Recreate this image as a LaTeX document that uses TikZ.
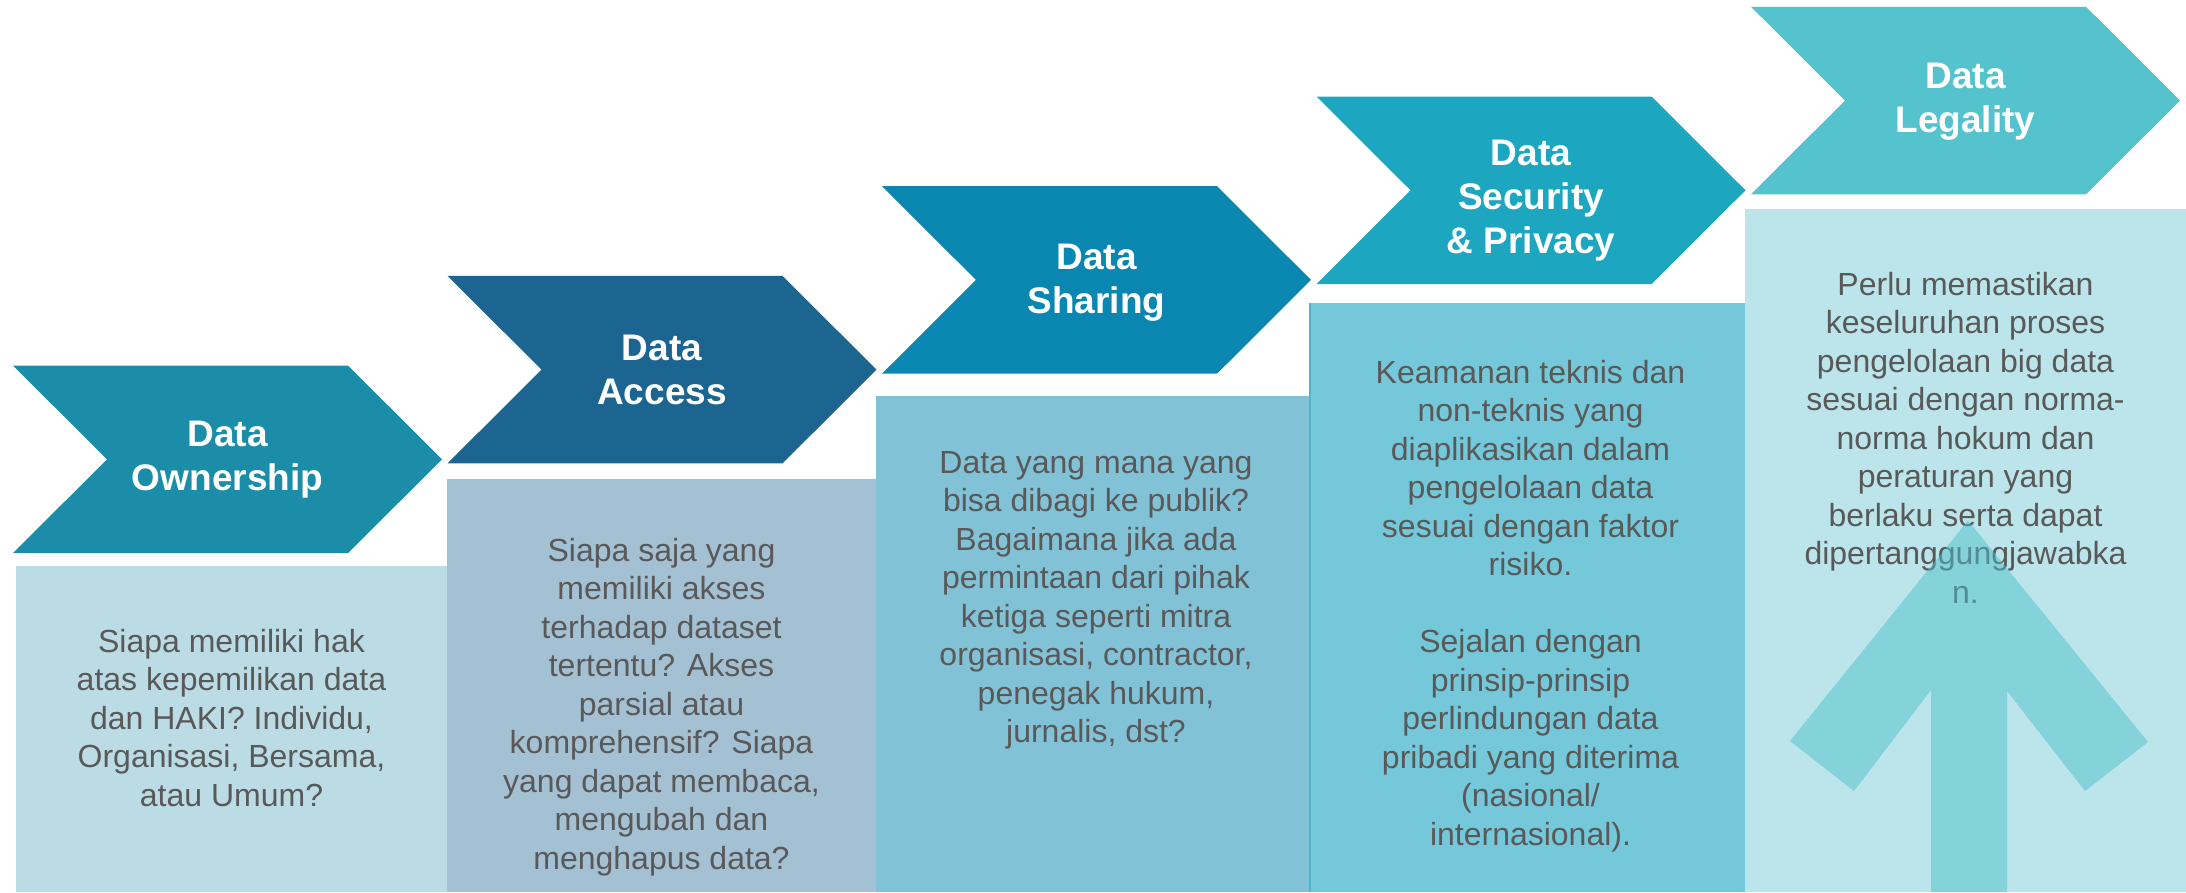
\documentclass[tikz,border=0pt]{standalone}
\usepackage{fontspec}
\setmainfont{Liberation Sans}
\usepackage{tikz}
\usetikzlibrary{positioning}
\usepackage{xcolor}
\definecolor{OwnerBlue}{HTML}{1B8DA8}
\definecolor{AccessBlue}{HTML}{1C6591}
\definecolor{SharingBlue}{HTML}{0987B0}
\definecolor{SecurityBlue}{HTML}{1CA6BF}
\definecolor{LegalBlue}{HTML}{55C3CE}
\definecolor{LiteOwner}{HTML}{BBDCE5}
\definecolor{LiteAccess}{HTML}{A4C0D3}
\definecolor{LiteSharing}{HTML}{82C2D6}
\definecolor{LiteSecurity}{HTML}{75C8D9}
\definecolor{LiteLegal}{HTML}{BBE5EA}
\definecolor{EdgeSecurity}{HTML}{4FB3CB}
\definecolor{UpArrow}{HTML}{4FC0CC}
\definecolor{TextGray}{HTML}{595959}
\tikzset{%
  stepbox/.style={%
    rectangle,%
    anchor=north west,%
    inner sep=0pt,%
    outer sep=0pt,%
    draw=none,%
  },
  chevron/.style={%
    draw=none,%
  },
  title_text/.style={%
    text=white,%
    anchor=north,%
    inner sep=0pt,%
    align=center,%
    font={\fontsize{37}{44}\selectfont\bfseries},%
  },
  body_text/.style={%
    text=TextGray,%
    inner sep=0pt,%
    align=center,%
    font={\fontsize{32}{38.5}\selectfont},%
  },
  up_arrow/.style={%
    fill=UpArrow,%
    fill opacity=0.5,%
  },
}

\begin{document}
\begin{tikzpicture}[x=1pt, y=-1pt]

    \useasboundingbox (0,0) rectangle (2186,892);

    % text boxes
    \node [stepbox, fill=LiteOwner, minimum width=431pt, minimum height=326pt] (box1) at (16,566) {};
    \node [stepbox, fill=LiteAccess, minimum width=429pt, minimum height=413pt] (box2) at (447,479) {};
    \node [stepbox, fill=LiteSharing, minimum width=434pt, minimum height=496.4pt] (box3) at (876,395.6) {};
    \node [stepbox, fill=LiteSecurity, minimum width=435pt, minimum height=589.3pt] (box4) at (1310,302.7) {};
    \node [stepbox, fill=LiteLegal, minimum width=441pt, minimum height=682.7pt] (box5) at (1745,209.3) {};
    \draw [EdgeSecurity, line width=1.2pt] (box4.north west) -- (box4.south west);

    % chevrons
    \fill [chevron, OwnerBlue]
      (13,365.6) -- (348,365.6) -- (442,459.35) -- (348,553.1) -- (13,553.1) -- (107,459.35) -- cycle;
    \fill [chevron, AccessBlue]
      (447.5,275.9) -- (782.5,275.9) -- (876.5,369.65) -- (782.5,463.4) -- (447.5,463.4) -- (541.5,369.65) -- cycle;
    \fill [chevron, SharingBlue]
      (882,186.2) -- (1217,186.2) -- (1311,279.95) -- (1217,373.7) -- (882,373.7) -- (976,279.95) -- cycle;
    \fill [chevron, SecurityBlue]
      (1316.5,96.5) -- (1651.5,96.5) -- (1745.5,190.25) -- (1651.5,284) -- (1316.5,284) -- (1410.5,190.25) -- cycle;
    \fill [chevron, LegalBlue]
      (1751,6.8) -- (2086,6.8) -- (2180,100.55) -- (2086,194.3) -- (1751,194.3) -- (1845,100.55) -- cycle;

    \node [title_text] (title1) at (227.5,421) {Data\\Ownership};
    \node [title_text] (title2) at (662,334.6) {Data\\Access};
    \node [title_text] (title3) at (1096.5,243.7) {Data\\Sharing};
    \node [title_text] (title4) at (1531,139.6) {Data\\Security\\\& Privacy};
    \node [title_text] (title5) at (1965.5,62.6) {Data\\Legality};

    \node [body_text, below=63pt of box1.north] (text1)
      {Siapa memiliki hak\\atas kepemilikan data\\dan HAKI? Individu,\\Organisasi, Bersama,\\atau Umum?};
    \node [body_text, below=59pt of box2.north] (text2)
      {Siapa saja yang\\memiliki akses\\terhadap dataset\\tertentu? Akses\\parsial atau\\komprehensif? Siapa\\yang dapat membaca,\\mengubah dan\\menghapus data?};
    \node [body_text, below=55.4pt of box3.north, xshift=3pt] (text3)
      {Data yang mana yang\\bisa dibagi ke publik?\\Bagaimana jika ada\\permintaan dari pihak\\ketiga seperti mitra\\organisasi, contractor,\\penegak hukum,\\jurnalis, dst?};
    \node [body_text, below=56.9pt of box4.north, xshift=3pt] (text4)
      {Keamanan teknis dan\\non-teknis yang\\diaplikasikan dalam\\pengelolaan data\\sesuai dengan faktor\\risiko.\\[38.5pt]Sejalan dengan\\prinsip-prinsip\\perlindungan data\\pribadi yang diterima\\(nasional/\\internasional).};
    \node [body_text, below=62.7pt of box5.north] (text5)
      {Perlu memastikan\\keseluruhan proses\\pengelolaan big data\\sesuai dengan norma-\\norma hokum dan\\peraturan yang\\berlaku serta dapat\\dipertanggungjawabka\\n.};

    % arrow over the last box
    \fill [up_arrow]
      (1968,520.5) -- (2148,742) -- (2085,791) -- (2007,691) -- (2007,892)
      -- (1931,892) -- (1931,690) -- (1854,791) -- (1790,741) -- cycle;
  \end{tikzpicture}
\end{document}
